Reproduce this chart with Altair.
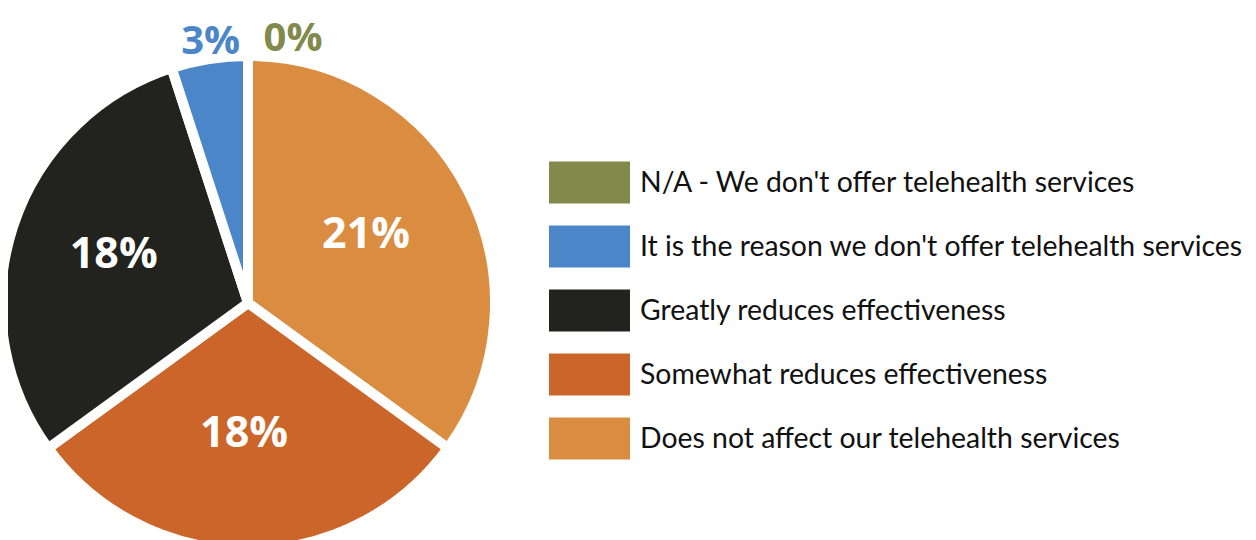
import altair as alt
import pandas as pd

categories = [
    "Does not affect our telehealth services",
    "Somewhat reduces effectiveness",
    "Greatly reduces effectiveness",
    "It is the reason we don't offer telehealth services",
    "N/A - We don't offer telehealth services",
]
values = [21, 18, 18, 3, 0]
labels = ["21%", "18%", "18%", "3%", "0%"]
colors = ["#DA8C41", "#CB6529", "#22231E", "#4A86C8", "#818A4B"]

df = pd.DataFrame({
    "category": categories,
    "value": values,
    "label": labels,
    "rank": list(range(len(categories))),
})

legend_domain = categories[::-1]
legend_range = colors[::-1]

CX, CY = 240, 295

color = alt.Color(
    "category:N",
    scale=alt.Scale(domain=legend_domain, range=legend_range),
    legend=alt.Legend(
        title=None,
        orient="none",
        legendX=541,
        legendY=134,
        symbolType="M-1,-0.52L1,-0.52L1,0.52L-1,0.52Z",
        symbolSize=6561,
        symbolStrokeWidth=0,
        symbolOpacity=1,
        labelFont="Lato",
        labelFontSize=28.4,
        labelColor="#111111",
        labelOffset=10,
        labelLimit=800,
        rowPadding=2,
        padding=0,
    ),
)

theta = alt.Theta("value:Q", stack=True)
order = alt.Order("rank:O", sort="ascending")

base = alt.Chart(df)

arcs = base.mark_arc(outerRadius=247, stroke="white", strokeWidth=10).encode(
    theta=theta,
    color=color,
    order=order,
    x=alt.value(CX),
    y=alt.value(CY),
)

inner = base.mark_text(
    radius=137, font="Open Sans", fontWeight="bold", fontSize=43, fill="white",
    dx=-4, dy=-6,
).encode(
    theta=theta,
    text="label:N",
    order=order,
    x=alt.value(CX),
    y=alt.value(CY),
    opacity=alt.condition(alt.datum.rank < 3, alt.value(1), alt.value(0)),
)

outer_blue = base.mark_text(
    radius=264, font="Open Sans", fontWeight="bold", fontSize=40, dx=4
).encode(
    theta=theta,
    text="label:N",
    order=order,
    color=color,
    x=alt.value(CX),
    y=alt.value(CY),
    opacity=alt.condition(alt.datum.rank == 3, alt.value(1), alt.value(0)),
)

outer_na = base.mark_text(
    radius=264, font="Open Sans", fontWeight="bold", fontSize=40, dx=45
).encode(
    theta=theta,
    text="label:N",
    order=order,
    color=color,
    x=alt.value(CX),
    y=alt.value(CY),
    opacity=alt.condition(alt.datum.rank == 4, alt.value(1), alt.value(0)),
)

chart = alt.layer(arcs, inner, outer_blue, outer_na).properties(
    width=1240,
    height=532,
    padding=0,
    autosize=alt.AutoSizeParams(type="none"),
).configure_view(stroke=None)

chart.save("out.html", embed_options={"renderer": "svg", "actions": False})
